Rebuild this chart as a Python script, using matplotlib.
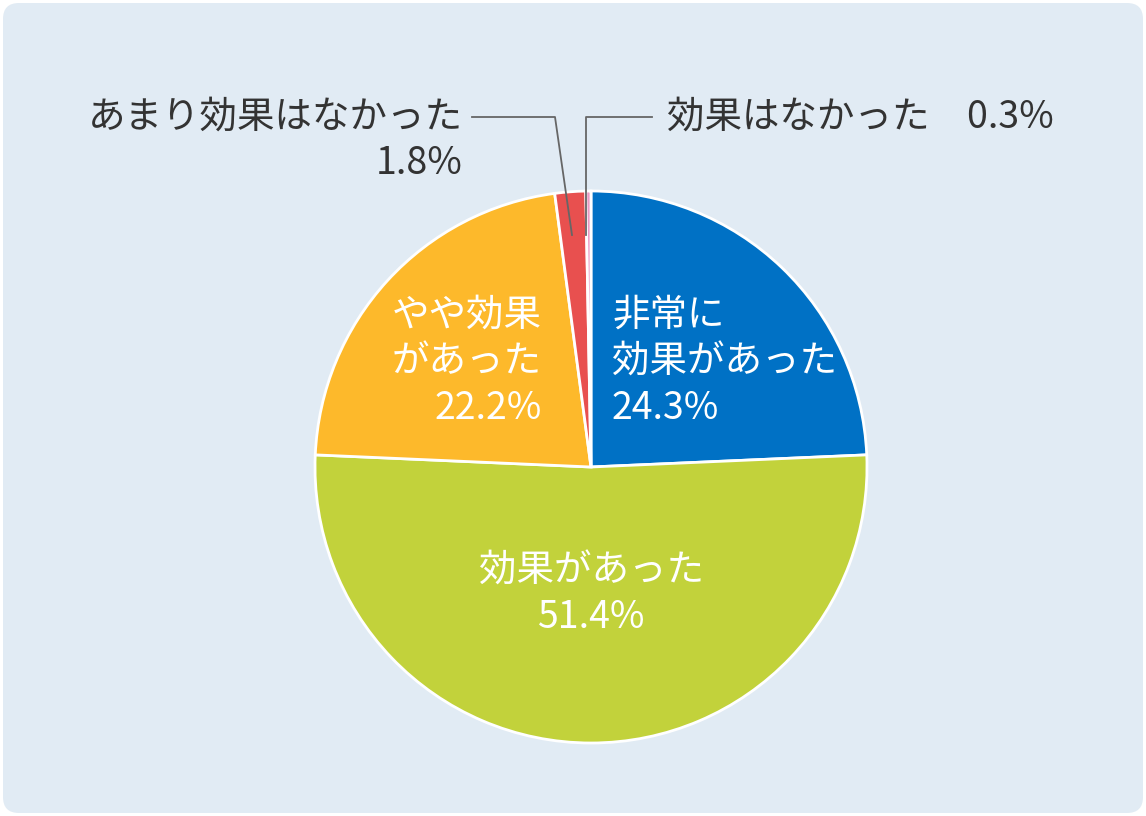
import numpy as np
import matplotlib
matplotlib.use("Agg")
import matplotlib.pyplot as plt
from matplotlib.patches import FancyBboxPatch

plt.rcParams["font.family"] = ["Noto Sans CJK JP", "DejaVu Sans"]

# --- data (clockwise from 12 o'clock) ---
labels = ["非常に\n効果があった", "効果があった", "やや効果\nがあった", "あまり効果はなかった", "効果はなかった"]
values = [24.3, 51.4, 22.2, 1.8, 0.3]
colors = ["#0071c5", "#c2d23b", "#fdb92b", "#e8504f", "#ec9ac4"]

W, H = 1146, 816
fig = plt.figure(figsize=(W / 100, H / 100), dpi=100)
ax = fig.add_axes([0, 0, 1, 1])

bg = FancyBboxPatch((3, 3), W - 6, H - 6, boxstyle="round,pad=0,rounding_size=16",
                    fc="#e1ebf4", ec="none")
ax.add_patch(bg)

cx, cy, r = 591, H - 467, 276
ax.pie(values, colors=colors, startangle=90, counterclock=False,
       center=(cx, cy), radius=r, frame=True,
       wedgeprops=dict(edgecolor="white", linewidth=2))
ax.set_xlim(0, W); ax.set_ylim(0, H)
ax.set_aspect("equal")
ax.axis("off")

fs = 27
ls = 1.25
pct = [f"{v}%" for v in values]
# inside labels
ax.text(612, H - 362, labels[0] + "\n" + pct[0], color="white", fontsize=fs,
        ha="left", va="center", linespacing=ls)
ax.text(542, H - 362, labels[2] + "\n" + pct[2], color="white", fontsize=fs,
        ha="right", va="center", linespacing=ls)
ax.text(591, H - 594, labels[1] + "\n" + pct[1], color="white", fontsize=fs,
        ha="center", va="center", linespacing=ls)

# outside labels
tc = "#333333"
ax.text(463, H - 140, labels[3] + "\n" + pct[3], color=tc, fontsize=fs,
        ha="right", va="center", linespacing=ls)
ax.text(667, H - 117, labels[4] + "　" + pct[4], color=tc, fontsize=fs,
        ha="left", va="center")

# leader lines
lc = "#666666"
ax.plot([472, 555, 572], [H - 117, H - 117, H - 235], color=lc, lw=1.3)
ax.plot([586, 586, 652], [H - 235, H - 117, H - 117], color=lc, lw=1.3)

fig.savefig("out.png", dpi=100, facecolor="white")
